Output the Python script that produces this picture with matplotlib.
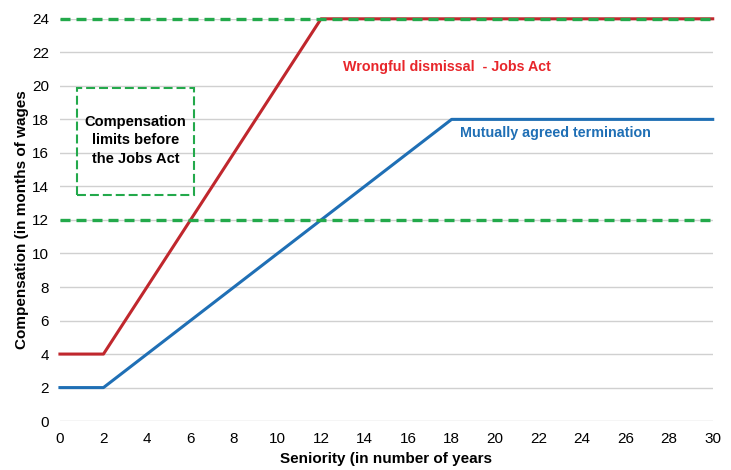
import matplotlib
matplotlib.use("Agg")
import matplotlib.pyplot as plt
from matplotlib.patches import Rectangle

# seniority (years) and compensation (months of wages)
years_wrongful = [0, 2, 12, 30]
comp_wrongful = [4, 4, 24, 24]
years_mutual = [0, 2, 18, 30]
comp_mutual = [2, 2, 18, 18]
old_limits = [12, 24]

xticks = list(range(0, 31, 2))
yticks = list(range(0, 25, 2))

plt.rcParams['font.family'] = ['Liberation Sans', 'DejaVu Sans']

red = '#C0272D'
blue = '#1F6FB5'
green = '#23A94B'

fig = plt.figure(figsize=(7.31, 4.70), dpi=100)
ax = fig.add_axes([0.082, 0.104, 0.893, 0.856])

ax.plot(years_wrongful, comp_wrongful, color=red, lw=2.2, zorder=3, clip_on=False)
ax.plot(years_mutual, comp_mutual, color=blue, lw=2.2, zorder=3, clip_on=False)
for lim in old_limits:
    ax.axhline(lim, color=green, lw=2.4, ls=(0, (3, 1.8)), zorder=4, clip_on=False)

# box around the old-limits note
ax.add_patch(Rectangle((0.78, 13.5), 5.38, 6.38, fill=False, ec=green,
                       lw=1.5, ls=(0, (4.3, 1.9)), zorder=4))
ax.text(3.47, 16.75, 'Compensation\nlimits before\nthe Jobs Act', ha='center', va='center',
        fontsize=10.5, fontweight='bold', linespacing=1.4)

ax.text(13.0, 21.1, 'Wrongful dismissal  - Jobs Act', color='#E8262B', fontsize=10.3,
        fontweight='bold', va='center')
ax.text(18.4, 17.2, 'Mutually agreed termination', color=blue, fontsize=10.3,
        fontweight='bold', va='center')

ax.set_xlim(0, 30)
ax.set_ylim(0, 24)
ax.set_xticks(xticks)
ax.set_yticks(yticks)
ax.tick_params(length=0, labelsize=11, pad=8)
ax.grid(axis='y', color='#D0D0D0', lw=1)
ax.set_axisbelow(True)
for s in ax.spines.values():
    s.set_visible(False)

ax.set_xlabel('Seniority (in number of years', fontsize=11, fontweight='bold', labelpad=4)
ax.set_ylabel('Compensation (in months of wages', fontsize=11, fontweight='bold', labelpad=2)

fig.savefig('out.png', dpi=100)
